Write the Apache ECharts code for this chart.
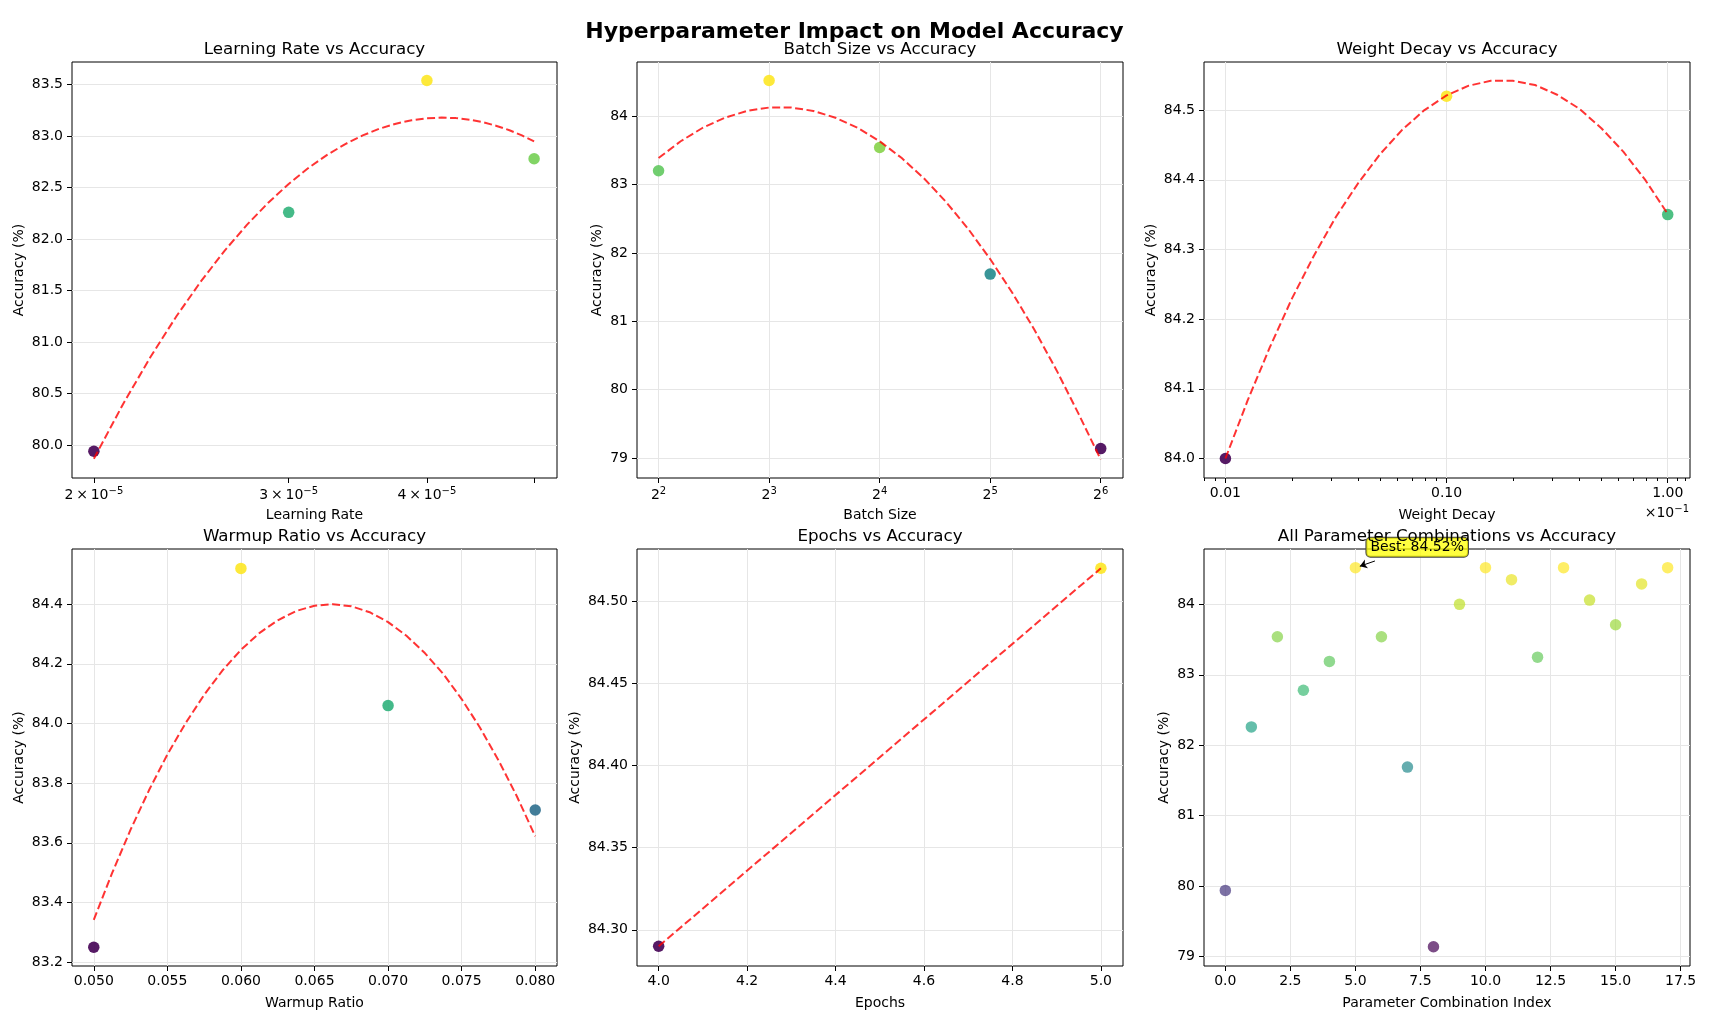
<!DOCTYPE html>
<html>
<head>
<meta charset="utf-8">
<script src="https://cdn.jsdelivr.net/npm/echarts@6/dist/echarts.min.js"></script>
<style>
  html, body { margin: 0; padding: 0; background: #fff; }
  #main { width: 1709px; height: 1013px; }
</style>
</head>
<body>
<div id="main"></div>
<script>
// values
var lrValues = [2e-5, 3e-5, 4e-5, 5e-5];
var lrAcc = [79.94, 82.26, 83.54, 82.78];
var lrTrendX = [2.0e-5, 2.125e-5, 2.25e-5, 2.375e-5, 2.5e-5, 2.625e-5, 2.75e-5, 2.875e-5, 3.0e-5, 3.125e-5,
                3.25e-5, 3.375e-5, 3.5e-5, 3.625e-5, 3.75e-5, 3.875e-5, 4.0e-5, 4.125e-5, 4.25e-5, 4.375e-5,
                4.5e-5, 4.625e-5, 4.75e-5, 4.875e-5, 5.0e-5];
var lrTrendY = [79.867, 80.397, 80.855, 81.251, 81.592, 81.886, 82.138, 82.353, 82.536, 82.690,
                82.818, 82.923, 83.007, 83.073, 83.121, 83.154, 83.174, 83.180, 83.175, 83.159,
                83.134, 83.099, 83.057, 83.007, 82.950];

var bsValues = [4, 8, 16, 32, 64];
var bsAcc = [83.20, 84.52, 83.54, 81.69, 79.14];
var bsTrendX = [4, 4.595, 5.278, 6.063, 6.964, 8, 9.190, 10.556, 12.126, 13.929, 16,
                18.379, 21.112, 24.251, 27.858, 32, 36.758, 42.224, 48.503, 55.715, 64];
var bsTrendY = [83.386, 83.632, 83.829, 83.976, 84.075, 84.124, 84.124, 84.075, 83.976, 83.829, 83.632,
                83.386, 83.091, 82.746, 82.353, 81.910, 81.418, 80.877, 80.286, 79.647, 78.98];

var wdValues = [0.01, 0.1, 1.0];
var wdAcc = [84.00, 84.52, 84.35];
var wdTrendX = [0.01, 0.012589, 0.015849, 0.019953, 0.025119, 0.031623, 0.039811, 0.050119, 0.063096, 0.079433,
                0.1, 0.12589, 0.15849, 0.19953, 0.25119, 0.31623, 0.39811, 0.50119, 0.63096, 0.79433, 1.0];
var wdTrendY = [84.000, 84.083, 84.159, 84.229, 84.291, 84.347, 84.395, 84.437, 84.472, 84.500,
                84.521, 84.535, 84.542, 84.542, 84.536, 84.522, 84.502, 84.474, 84.440, 84.399, 84.351];

var wrValues = [0.05, 0.06, 0.07, 0.08];
var wrAcc = [83.25, 84.52, 84.06, 83.71];
var wrTrendX = [0.05, 0.05125, 0.0525, 0.05375, 0.055, 0.05625, 0.0575, 0.05875, 0.06, 0.06125, 0.0625, 0.06375,
                0.065, 0.06625, 0.0675, 0.06875, 0.07, 0.07125, 0.0725, 0.07375, 0.075, 0.07625, 0.0775, 0.07875, 0.08];
var wrTrendY = [83.342, 83.499, 83.644, 83.776, 83.896, 84.002, 84.096, 84.178, 84.247, 84.303, 84.346, 84.377,
                84.395, 84.400, 84.393, 84.373, 84.340, 84.294, 84.236, 84.166, 84.082, 83.986, 83.877, 83.756, 83.622];

var epValues = [4, 5];
var epAcc = [84.29, 84.52];
var epTrendX = [4, 5];
var epTrendY = [84.29, 84.52];

var comboIndex = [0, 1, 2, 3, 4, 5, 6, 7, 8, 9, 10, 11, 12, 13, 14, 15, 16, 17];
var comboAcc = [79.94, 82.26, 83.54, 82.78, 83.19, 84.52, 83.54, 81.69, 79.14, 84.00, 84.52, 84.35, 83.25, 84.52, 84.06, 83.71, 84.29, 84.52];

// tick values
var lrTicks = [2e-5, 3e-5, 4e-5, 5e-5];
var lrLabelTicks = [2e-5, 3e-5, 4e-5];
var bsTicks = [4, 8, 16, 32, 64];
var wdTicks = [0.01, 0.1, 1];
var wdMinorTicks = [0.008, 0.009, 0.02, 0.03, 0.04, 0.05, 0.06, 0.07, 0.08, 0.09, 0.2, 0.3, 0.4, 0.5, 0.6, 0.7, 0.8, 0.9, 1.1, 1.2];
var wrTicks = [0.05, 0.055, 0.06, 0.065, 0.07, 0.075, 0.08];
var epTicks = [4.0, 4.2, 4.4, 4.6, 4.8, 5.0];
var comboTicks = [0, 2.5, 5, 7.5, 10, 12.5, 15, 17.5];
var lrAccTicks = [80, 80.5, 81, 81.5, 82, 82.5, 83, 83.5];
var bsAccTicks = [79, 80, 81, 82, 83, 84];
var wdAccTicks = [84.0, 84.1, 84.2, 84.3, 84.4, 84.5];
var wrAccTicks = [83.2, 83.4, 83.6, 83.8, 84.0, 84.2, 84.4];
var epAccTicks = [84.30, 84.35, 84.40, 84.45, 84.50];
var comboAccTicks = [79, 80, 81, 82, 83, 84];

var FONT = 'DejaVu Sans';
var viridis = ['#440154', '#482475', '#414487', '#355f8d', '#2a788e', '#21918c',
               '#22a884', '#44bf70', '#7ad151', '#bddf26', '#fde725'];
// base text + raised exponent, like matplotlib mathtext
var supRich = {
  b: { fontFamily: FONT, fontSize: 14, color: '#000', lineHeight: 18 },
  e: { fontFamily: FONT, fontSize: 10, color: '#000', lineHeight: 10, verticalAlign: 'top' }
};

var grids = [
  { left: 72,   top: 62,  width: 485, height: 416 },
  { left: 637,  top: 62,  width: 486, height: 416 },
  { left: 1204, top: 62,  width: 486, height: 416 },
  { left: 72,   top: 549, width: 485, height: 417 },
  { left: 637,  top: 549, width: 486, height: 417 },
  { left: 1204, top: 549, width: 486, height: 417 }
];

function pairs(xs, ys) {
  return xs.map(function (x, i) { return [x, ys[i]]; });
}

function makeAxis(o) {
  var ax = {
    type: o.type || 'value',
    gridIndex: o.grid,
    min: o.min,
    max: o.max,
    position: o.position,
    name: o.name,
    nameLocation: 'middle',
    nameGap: o.nameGap,
    nameTextStyle: { fontFamily: FONT, fontSize: 14, color: '#000' },
    axisLine: { show: false, onZero: false },
    axisTick: {
      show: true, inside: false, length: o.tickLen || 5,
      customValues: o.ticks,
      lineStyle: { color: '#000', width: 1 }
    },
    axisLabel: {
      show: o.showLabel !== false,
      customValues: o.labels || o.ticks,
      formatter: o.fmt,
      fontFamily: FONT, fontSize: 14, color: '#000',
      margin: o.margin || 8,
      hideOverlap: false,
      rich: o.rich
    },
    splitLine: { show: o.split !== false, lineStyle: { color: '#e6e6e6', width: 1 } },
    minorTick: { show: false },
    minorSplitLine: { show: false }
  };
  if (o.logBase) ax.logBase = o.logBase;
  return ax;
}

function fixed(n) { return function (v) { return Number(v).toFixed(n); }; }

function scatter(k, xs, ys, opacity) {
  return {
    type: 'scatter', xAxisIndex: k, yAxisIndex: k,
    data: pairs(xs, ys), symbolSize: 11.5,
    itemStyle: { opacity: opacity }, z: 2
  };
}
function trend(k, xs, ys) {
  return {
    type: 'line', xAxisIndex: k, yAxisIndex: k,
    data: pairs(xs, ys), smooth: false, showSymbol: false, symbol: 'none',
    lineStyle: { color: 'rgba(255,0,0,0.8)', width: 2, type: [8, 3.5] }, z: 3
  };
}
function vmap(idx, vals) {
  return {
    type: 'continuous', show: false, seriesIndex: idx, dimension: 1,
    min: Math.min.apply(null, vals), max: Math.max.apply(null, vals),
    inRange: { color: viridis }
  };
}

var xAxes = [
  makeAxis({ grid: 0, type: 'log', logBase: 10, min: 1.911e-5, max: 5.244e-5, ticks: lrTicks, labels: lrLabelTicks,
             fmt: function (v) { return '{b|' + Math.round(v * 1e5) + '\u2009×\u200910}{e|−5}'; }, rich: supRich,
             split: false, name: 'Learning Rate', nameGap: 30 }),
  makeAxis({ grid: 1, type: 'log', logBase: 2, min: 3.494, max: 73.6, ticks: bsTicks,
             fmt: function (v) { return '{b|2}{e|' + Math.round(Math.log(v) / Math.LN2) + '}'; }, rich: supRich,
             name: 'Batch Size', nameGap: 30 }),
  makeAxis({ grid: 2, type: 'log', logBase: 10, min: 0.008, max: 1.261, ticks: wdTicks, fmt: fixed(2),
             name: 'Weight Decay', nameGap: 30 }),
  makeAxis({ grid: 3, min: 0.04852, max: 0.08148, ticks: wrTicks, fmt: fixed(3), name: 'Warmup Ratio', nameGap: 30 }),
  makeAxis({ grid: 4, min: 3.951, max: 5.05, ticks: epTicks, fmt: fixed(1), name: 'Epochs', nameGap: 30 }),
  makeAxis({ grid: 5, min: -0.82, max: 17.86, ticks: comboTicks, fmt: fixed(1), name: 'Parameter Combination Index', nameGap: 30 }),
  // minor ticks of the weight decay axis
  makeAxis({ grid: 2, type: 'log', logBase: 10, min: 0.008, max: 1.261, ticks: wdMinorTicks, showLabel: false,
             split: false, tickLen: 3, position: 'bottom' })
];

var yAxes = [
  makeAxis({ grid: 0, min: 79.68, max: 83.72, ticks: lrAccTicks, fmt: fixed(1), name: 'Accuracy (%)', nameGap: 46, margin: 9 }),
  makeAxis({ grid: 1, min: 78.71, max: 84.79, ticks: bsAccTicks, fmt: fixed(0), name: 'Accuracy (%)', nameGap: 33, margin: 9 }),
  makeAxis({ grid: 2, min: 83.972, max: 84.569, ticks: wdAccTicks, fmt: fixed(1), name: 'Accuracy (%)', nameGap: 46, margin: 9 }),
  makeAxis({ grid: 3, min: 83.187, max: 84.585, ticks: wrAccTicks, fmt: fixed(1), name: 'Accuracy (%)', nameGap: 46, margin: 9 }),
  makeAxis({ grid: 4, min: 84.278, max: 84.5317, ticks: epAccTicks, fmt: fixed(2), name: 'Accuracy (%)', nameGap: 55, margin: 9 }),
  makeAxis({ grid: 5, min: 78.867, max: 84.785, ticks: comboAccTicks, fmt: fixed(0), name: 'Accuracy (%)', nameGap: 33, margin: 9 })
];

var bestAcc = Math.max.apply(null, comboAcc);
var bestIdx = comboIndex[comboAcc.indexOf(bestAcc)];

var comboSeries = scatter(5, comboIndex, comboAcc, 0.7);
comboSeries.markPoint = {
  symbol: 'circle', symbolSize: 0, silent: true,
  data: [{ coord: [bestIdx, bestAcc] }],
  label: {
    show: true, formatter: 'Best: ' + bestAcc.toFixed(2) + '%',
    position: [11, -30], align: 'left', verticalAlign: 'top',
    backgroundColor: 'rgba(255,255,0,0.75)', borderColor: '#444', borderWidth: 1, borderRadius: 4,
    padding: [3, 4, 2, 4], fontFamily: FONT, fontSize: 14, color: '#000'
  }
};
comboSeries.markLine = {
  silent: true, symbol: ['none', 'arrow'], symbolSize: 7,
  lineStyle: { color: '#000', width: 1, type: 'solid' },
  label: { show: false },
  data: [[{ coord: [bestIdx + 0.75, bestAcc + 0.095] }, { coord: [bestIdx + 0.17, bestAcc + 0.02] }]]
};

var series = [
  scatter(0, lrValues, lrAcc, 0.9), trend(0, lrTrendX, lrTrendY),
  scatter(1, bsValues, bsAcc, 0.9), trend(1, bsTrendX, bsTrendY),
  scatter(2, wdValues, wdAcc, 0.9), trend(2, wdTrendX, wdTrendY),
  scatter(3, wrValues, wrAcc, 0.9), trend(3, wrTrendX, wrTrendY),
  scatter(4, epValues, epAcc, 0.9), trend(4, epTrendX, epTrendY),
  comboSeries
];

var subTitles = ['Learning Rate vs Accuracy', 'Batch Size vs Accuracy', 'Weight Decay vs Accuracy',
                 'Warmup Ratio vs Accuracy', 'Epochs vs Accuracy', 'All Parameter Combinations vs Accuracy'];

var titles = [{
  text: 'Hyperparameter Impact on Model Accuracy', left: 'center', top: 21, padding: 0,
  textStyle: { fontFamily: FONT, fontSize: 22, fontWeight: 'bold', color: '#000' }
}];
subTitles.forEach(function (t, i) {
  var g = grids[i];
  titles.push({
    text: t, left: g.left + g.width / 2, textAlign: 'center', top: g.top - 21, padding: 0,
    textStyle: { fontFamily: FONT, fontSize: 16.7, fontWeight: 'normal', color: '#000' }
  });
});

var myChart = echarts.init(document.getElementById('main'), null, { renderer: 'canvas' });
myChart.setOption({
  backgroundColor: '#fff',
  animation: false,
  title: titles,
  grid: grids.map(function (g) {
    return { left: g.left, top: g.top, width: g.width, height: g.height, show: true,
             borderColor: '#000', borderWidth: 1, backgroundColor: 'transparent', containLabel: false };
  }),
  xAxis: xAxes,
  yAxis: yAxes,
  visualMap: [
    vmap(0, lrAcc), vmap(2, bsAcc), vmap(4, wdAcc), vmap(6, wrAcc), vmap(8, epAcc), vmap(10, comboAcc)
  ],
  graphic: [{
    type: 'text', right: 20, top: 504,
    style: { text: '{b|×10}{e|−1}', rich: supRich, fill: '#000' }
  }],
  series: series
});
</script>
</body>
</html>
